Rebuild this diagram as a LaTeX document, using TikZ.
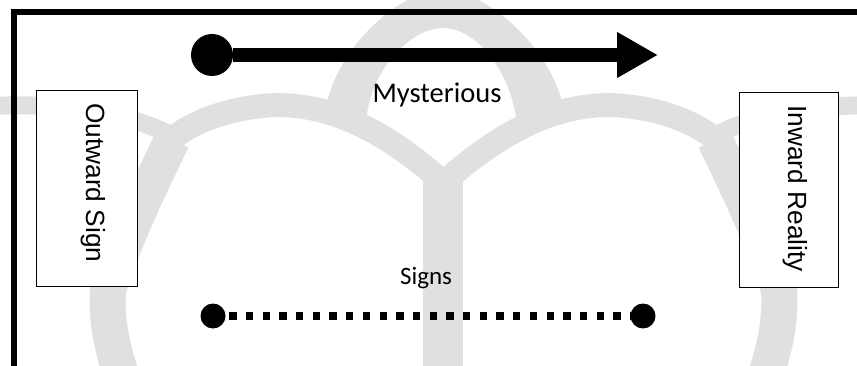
\documentclass[tikz,border=0pt]{standalone}
\usepackage{fontspec}
\newfontfamily\calfont{Carlito}
\newfontfamily\arialfont{Liberation Sans}
\usetikzlibrary{arrows.meta}
\begin{document}
\begin{tikzpicture}[x=1pt,y=-1pt,
  wm/.style={draw=black!12, line cap=butt},
  box/.style={draw=black, line width=1pt, fill=white, inner sep=0pt},
  dot/.style={circle, fill=black, inner sep=0pt},
  sidetext/.style={font=\arialfont\fontsize{26.3}{28}\selectfont, rotate=-90, anchor=base west, inner sep=0pt},
  caltext/.style={anchor=base, inner sep=0pt}]
\useasboundingbox (0,0) rectangle (857,366);
\clip (0,0) rectangle (857,366);
% watermark
\fill[black!12] (325,122) .. controls (325,60) and (395,-10) .. (443,-10)
  .. controls (491,-10) and (563,60) .. (565,122) -- (517,126)
  .. controls (513,75) and (478,28) .. (443,28)
  .. controls (408,28) and (367,75) .. (366,126) -- cycle;
\draw[wm, line width=40pt] (443,172) -- (443,372);
% left half
\draw[wm, line width=24pt] (446,185) .. controls (380,125) and (320,100) .. (262,106)
  .. controls (215,111) and (180,128) .. (160,150);
\draw[wm, line width=36pt] (172,140) .. controls (158,170) and (125,235) .. (108,290)
  .. controls (106,320) and (112,345) .. (120,372);
\draw[wm, line width=18pt] (175,138) .. controls (140,115) and (60,102) .. (-5,106);
% right half
\draw[wm, line width=24pt] (441,185) .. controls (507,125) and (567,100) .. (625,106)
  .. controls (672,111) and (707,128) .. (727,150);
\draw[wm, line width=36pt] (715,140) .. controls (729,170) and (762,235) .. (779,290)
  .. controls (781,320) and (775,345) .. (767,372);
\draw[wm, line width=18pt] (712,138) .. controls (747,115) and (827,102) .. (892,106);
% frame
\draw[line width=6pt, line join=miter] (14,372) -- (14,12) -- (864,12);
% boxes
\node[box, minimum width=101pt, minimum height=195pt] (outbox) at (86.5,188.5) {};
\node[box, minimum width=99pt, minimum height=194pt] (inbox) at (788.5,190) {};
\node[sidetext] (outtxt) at (86,103) {Outward Sign};
\node[sidetext] (intxt) at (788,105) {Inward Reality};
% top arrow
\node[dot, minimum size=42pt] (p1) at (212,55) {};
\coordinate (p2) at (658,55);
\draw[line width=14pt, -{Triangle[length=41pt,width=43pt]}] (p1) -- (p2);
\node[caltext, font=\calfont\fontsize{28.5}{30}\selectfont] (myst) at (437,103) {Mysterious};
% bottom dotted line
\node[dot, minimum size=25pt] (q1) at (213,316) {};
\node[dot, minimum size=25pt] (q2) at (643,316) {};
\draw[line width=7.3pt, dash pattern=on 7.3pt off 9.4pt, dash phase=13.2pt] (q1) -- (q2);
\node[caltext, font=\calfont\fontsize{25}{27}\selectfont] (signs) at (426,284) {Signs};
\end{tikzpicture}
\end{document}
